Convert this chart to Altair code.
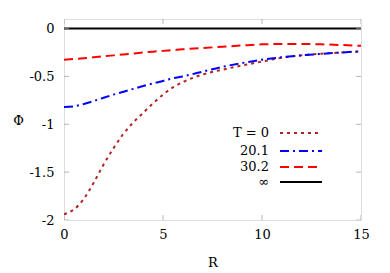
import altair as alt
import pandas as pd

R = [0, 0.5, 1, 1.5, 2, 2.5, 3, 3.5, 4, 4.5, 5, 5.5, 6, 7, 8, 9, 10, 11, 12, 13, 14, 15]
phi_T0 = [-1.94, -1.89, -1.78, -1.61, -1.42, -1.25, -1.10, -0.98, -0.88, -0.78, -0.69,
          -0.615, -0.56, -0.48, -0.43, -0.385, -0.345, -0.305, -0.28, -0.262, -0.25, -0.238]
phi_201 = [-0.82, -0.812, -0.788, -0.757, -0.722, -0.69, -0.66, -0.63, -0.60, -0.573, -0.547,
           -0.52, -0.50, -0.45, -0.40, -0.36, -0.325, -0.30, -0.28, -0.264, -0.25, -0.238]
phi_302 = [-0.326, -0.318, -0.31, -0.30, -0.29, -0.28, -0.27, -0.26, -0.25, -0.241, -0.233,
           -0.225, -0.217, -0.203, -0.19, -0.177, -0.165, -0.16, -0.16, -0.165, -0.172, -0.18]
phi_inf = [0.0] * len(R)

labels = ["T = 0", "20.1", "30.2", "∞"]
colors = ["#b22222", "#0000ff", "#ff0000", "#000000"]
dashes = [[3, 4], [9, 4, 2, 4], [9, 5], [1, 0]]
series = [phi_T0, phi_201, phi_302, phi_inf]

x_ticks = [0, 5, 10, 15]
y_ticks = [-2, -1.5, -1, -0.5, 0]

W, H = 297, 201
FONT = "DejaVu Serif"
FS = 13

xs = alt.Scale(domain=[0, 15], nice=False, zero=False)
ys = alt.Scale(domain=[-2, 0.1], nice=False, zero=False)

layers = []
for lab, col, dsh, vals in zip(labels, colors, dashes, series):
    df = pd.DataFrame({"R": R, "Phi": vals})
    layers.append(
        alt.Chart(df).mark_line(color=col, strokeDash=dsh, strokeWidth=2,
                                interpolate="monotone", clip=True)
        .encode(
            x=alt.X("R:Q", scale=xs,
                    axis=alt.Axis(values=x_ticks, title="R", domain=False, ticks=False,
                                  grid=False, labelPadding=8, labelFont=FONT,
                                  labelFontSize=FS, labelColor="#000",
                                  labelExpr="'' + datum.value",
                                  titleFont=FONT, titleFontSize=FS, titleFontWeight="normal",
                                  titleX=W / 2, titleY=42, titleBaseline="middle",
                                  labelFlush=False)),
            y=alt.Y("Phi:Q", scale=ys,
                    axis=alt.Axis(values=y_ticks, title="Φ", domain=False, ticks=False,
                                  grid=False, labelPadding=10, labelFont=FONT,
                                  labelFontSize=FS, labelColor="#000",
                                  labelExpr="'' + datum.value",
                                  titleFont=FONT, titleFontSize=FS, titleFontWeight="normal",
                                  titleAngle=0, titleX=-46, titleY=101,
                                  titleAlign="center", titleBaseline="middle",
                                  labelFlush=False)),
        )
    )

# inner ticks (clipped so only the inside half shows)
xt = pd.DataFrame({"R": x_ticks})
yt = pd.DataFrame({"Phi": y_ticks})
for yy in [0, H]:
    layers.append(alt.Chart(xt).mark_tick(orient="vertical", size=10, color="#999",
                                          thickness=1, clip=True)
                  .encode(x=alt.X("R:Q", scale=xs), y=alt.value(yy)))
for xx in [0, W]:
    layers.append(alt.Chart(yt).mark_tick(orient="horizontal", size=10, color="#999",
                                          thickness=1, clip=True)
                  .encode(y=alt.Y("Phi:Q", scale=ys), x=alt.value(xx)))

# legend (gnuplot style: label then line sample)
leg_y = [114, 132, 148, 163]
for lab, col, dsh, yy in zip(labels, colors, dashes, leg_y):
    ldf = pd.DataFrame({"label": [lab]})
    layers.append(alt.Chart(ldf).mark_text(align="right", baseline="middle", font=FONT,
                                           fontSize=FS, color="#000")
                  .encode(text="label:N", x=alt.value(205), y=alt.value(yy)))
    layers.append(alt.Chart(ldf).mark_rule(color=col, strokeDash=dsh, strokeWidth=2)
                  .encode(x=alt.value(216), x2=alt.value(258), y=alt.value(yy)))

chart = alt.layer(*layers).properties(
    width=W, height=H,
    autosize=alt.AutoSizeParams(type="none"),
    padding={"left": 56, "top": 11, "right": 20, "bottom": 50},
).configure_view(stroke="#222", strokeWidth=1).configure(
    background="white", font=FONT
).configure_axis(labelFont=FONT, titleFont=FONT).configure_text(font=FONT)

chart.save("out.html", embed_options={"renderer": "svg", "actions": False})
